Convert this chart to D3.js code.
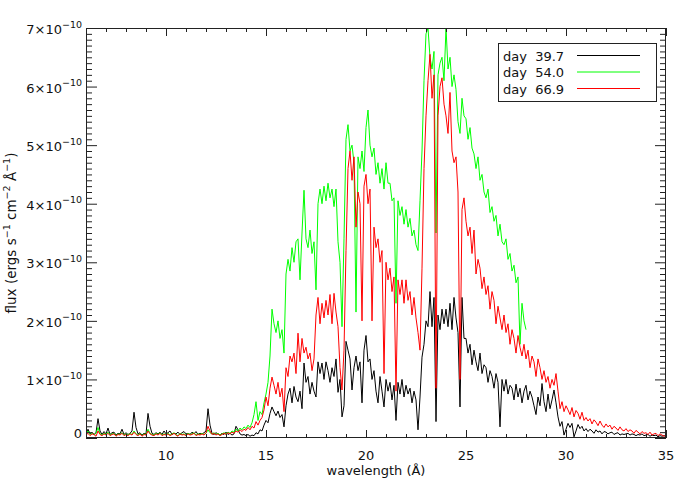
<!DOCTYPE html>
<html><head><meta charset="utf-8">
<script src="https://cdn.jsdelivr.net/npm/d3@7"></script>
<style>body{margin:0;background:#fff}svg{display:block;font-family:"DejaVu Sans",sans-serif}</style>
</head><body><svg id="c" width="692" height="494"></svg>
<script>
// wavelength grid (Å): first bin and bin width
const wavelengthStart = 6.0, wavelengthStep = 0.1;
// flux in units of 1e-10 ergs s^-1 cm^-2 Å^-1, one value per 0.1 Å bin
const flux_day39_7 = [
0.08,0.15,0.07,0.10,0.06,0.09,0.33,0.12,0.06,0.11,
0.07,0.17,0.06,0.09,0.10,0.05,0.08,0.07,0.15,0.06,
0.09,0.06,0.08,0.12,0.44,0.18,0.07,0.09,0.05,0.08,
0.07,0.42,0.20,0.08,0.06,0.09,0.07,0.10,0.06,0.12,
0.07,0.09,0.12,0.06,0.08,0.07,0.10,0.06,0.09,0.11,
0.07,0.08,0.06,0.10,0.07,0.11,0.06,0.08,0.07,0.09,
0.12,0.50,0.22,0.08,0.06,0.09,0.07,0.05,0.08,0.06,
0.10,0.06,0.08,0.05,0.07,0.20,0.14,0.07,0.05,0.06,
0.04,0.06,0.03,0.05,0.04,0.09,0.07,0.14,0.12,0.22,
0.30,0.26,0.42,0.53,0.45,0.38,0.46,0.35,0.40,0.19,
0.55,0.75,0.85,0.60,0.88,0.70,0.62,0.80,0.50,1.28,
0.95,1.05,0.75,0.95,0.80,0.70,1.30,1.10,1.28,1.00,
1.30,1.15,0.95,1.20,1.05,1.35,0.78,1.00,0.36,0.55,
1.65,1.50,1.35,0.82,1.20,1.40,1.15,1.30,0.60,1.50,
1.75,1.30,1.35,1.00,1.15,0.80,0.60,1.05,0.80,0.53,
1.00,0.80,0.95,0.65,0.90,0.30,0.95,0.75,1.00,0.70,
0.90,0.75,0.85,0.60,0.80,0.65,0.14,0.70,1.38,1.60,
2.00,1.90,2.50,1.90,2.40,0.28,2.10,1.85,2.20,1.95,
2.20,1.90,2.30,1.85,2.40,2.05,1.80,0.53,2.40,1.70,
1.70,1.45,1.60,1.25,1.50,1.30,1.15,1.45,1.10,1.25,
1.20,0.95,1.15,1.05,0.85,1.10,0.95,0.19,1.00,0.80,
1.00,0.75,0.90,0.85,0.65,0.92,0.70,0.85,0.60,0.80,
0.90,0.65,0.80,0.70,0.55,0.40,0.70,0.55,0.93,0.62,
0.45,0.75,0.50,0.65,0.82,0.60,0.36,0.20,0.28,0.05,
0.15,0.25,0.18,0.25,0.02,0.12,0.23,0.16,0.20,0.12,
0.16,0.11,0.15,0.12,0.08,0.14,0.10,0.12,0.07,0.11,
0.10,0.07,0.09,0.10,0.06,0.08,0.09,0.05,0.07,0.06,
0.07,0.08,0.05,0.07,0.06,0.04,0.06,0.05,0.07,0.04,
0.05,0.06,0.03,0.05,0.04,0.05,0.02,0.04,0.03,0.04,
0.03];
const flux_day54_0 = [
0.07,0.12,0.06,0.09,0.05,0.08,0.18,0.07,0.05,0.08,
0.06,0.10,0.05,0.07,0.08,0.04,0.07,0.06,0.09,0.05,
0.07,0.05,0.08,0.06,0.12,0.07,0.05,0.08,0.04,0.07,
0.06,0.15,0.08,0.06,0.05,0.08,0.06,0.09,0.05,0.07,
0.06,0.08,0.05,0.07,0.09,0.06,0.04,0.08,0.06,0.07,
0.05,0.08,0.06,0.07,0.09,0.05,0.07,0.06,0.08,0.06,
0.08,0.14,0.09,0.07,0.09,0.06,0.08,0.05,0.07,0.09,
0.07,0.10,0.08,0.12,0.10,0.15,0.12,0.17,0.14,0.19,
0.16,0.22,0.18,0.26,0.40,0.62,0.30,0.45,0.40,0.60,
0.75,0.95,1.40,2.20,1.95,1.80,2.00,1.70,1.85,1.45,
2.80,3.05,2.85,3.25,3.00,3.35,3.40,2.70,3.50,4.23,
3.40,3.25,3.55,3.15,3.35,2.53,4.00,4.25,4.00,4.30,
4.05,4.35,4.10,4.25,3.95,4.25,3.35,3.00,1.90,3.40,
5.10,5.35,4.90,5.00,4.70,2.15,4.80,4.60,4.90,4.55,
5.30,5.60,5.00,4.80,4.95,4.50,4.70,4.35,4.60,4.25,
4.70,4.35,4.35,4.05,4.10,2.30,4.05,3.80,3.95,3.65,
3.90,3.60,3.75,3.45,3.55,3.30,3.20,4.05,4.90,6.10,
6.90,7.00,6.50,6.30,6.60,3.50,6.20,6.40,6.50,6.10,
7.00,6.30,6.50,6.00,6.20,5.95,5.40,5.20,5.80,5.50,
5.45,5.10,5.30,4.95,4.85,4.60,4.80,4.40,4.50,4.20,
4.10,4.25,3.85,3.95,3.70,3.80,3.45,3.65,3.35,3.30,
3.40,3.05,3.15,2.85,2.95,2.65,2.75,1.60,2.30,2.00,
1.85];
const flux_day66_9 = [
0.05,0.08,0.04,0.07,0.06,0.03,0.12,0.06,0.04,0.07,
0.05,0.08,0.04,0.06,0.07,0.03,0.06,0.05,0.08,0.04,
0.06,0.04,0.07,0.05,0.10,0.06,0.04,0.07,0.03,0.06,
0.05,0.12,0.07,0.05,0.04,0.07,0.05,0.08,0.04,0.06,
0.05,0.07,0.04,0.06,0.08,0.05,0.03,0.07,0.05,0.06,
0.04,0.07,0.05,0.06,0.08,0.04,0.06,0.05,0.07,0.05,
0.09,0.20,0.12,0.06,0.08,0.05,0.07,0.04,0.06,0.08,
0.06,0.09,0.07,0.10,0.08,0.12,0.10,0.14,0.11,0.15,
0.13,0.18,0.14,0.20,0.17,0.28,0.22,0.30,0.35,0.48,
0.70,0.55,0.85,1.04,0.90,0.75,0.95,0.70,0.85,0.45,
1.20,1.05,1.40,1.30,1.45,1.10,1.79,1.30,1.70,1.45,
1.55,1.35,1.45,1.15,1.35,2.10,2.40,1.95,2.30,2.05,
2.35,2.10,2.45,1.95,2.47,2.15,1.90,1.20,0.82,1.50,
3.20,4.60,4.90,4.40,4.80,3.60,4.20,4.00,2.00,4.30,
4.50,4.00,4.25,2.00,3.60,3.25,3.40,3.00,3.20,1.10,
3.00,2.70,2.90,2.50,2.75,0.80,2.70,2.45,2.70,2.30,
2.70,2.35,2.50,2.10,2.40,2.05,1.80,1.50,2.90,4.60,
5.50,6.10,6.55,5.80,6.20,0.85,5.50,6.00,6.15,5.70,
5.50,5.20,5.90,4.90,4.70,4.80,4.20,1.00,3.90,4.10,
3.70,3.45,3.60,3.15,3.55,2.80,3.05,2.90,2.55,2.75,
2.45,2.60,2.20,2.50,2.35,1.95,2.25,2.05,1.85,2.10,
1.80,1.95,1.60,1.85,1.70,1.45,1.75,1.55,1.40,1.60,
1.35,1.50,1.20,1.40,1.30,1.05,1.35,1.20,1.00,1.15,
0.95,1.05,0.85,1.00,0.90,1.10,0.80,0.50,0.62,0.45,
0.55,0.48,0.40,0.52,0.36,0.47,0.42,0.32,0.44,0.30,
0.35,0.29,0.33,0.24,0.31,0.27,0.21,0.29,0.22,0.18,
0.24,0.19,0.22,0.15,0.20,0.17,0.13,0.19,0.14,0.12,
0.16,0.11,0.14,0.12,0.08,0.13,0.10,0.07,0.11,0.08,
0.09,0.06,0.10,0.05,0.07,0.08,0.04,0.07,0.05,0.03,
0.05];
const seriesNames = ["day  39.7", "day  54.0", "day  66.9"];
const seriesColors = ["#000000", "#00ff00", "#ff0000"];
const xMajorTicks = [10, 15, 20, 25, 30, 35];
const yMajorTicks = [0, 1, 2, 3, 4, 5, 6, 7]; // × 10^-10
const xDomain = [6, 35], yDomain = [0, 7];

const svg = d3.select("#c");
const M = {l: 86, r: 666, t: 28, b: 438};
const x = d3.scaleLinear().domain(xDomain).range([M.l, M.r]);
const y = d3.scaleLinear().domain(yDomain).range([M.b, M.t]);
const axisColor = "#222";

svg.append("defs").append("clipPath").attr("id", "clip")
  .append("rect").attr("x", M.l).attr("y", M.t).attr("width", M.r - M.l).attr("height", M.b - M.t);

const line = d3.line().x(d => x(d[0])).y(d => y(d[1]));
const toPts = arr => arr.map((v, i) => [wavelengthStart + i * wavelengthStep, v]);
const allSeries = [flux_day39_7, flux_day54_0, flux_day66_9];
const dg = svg.append("g").attr("clip-path", "url(#clip)");
allSeries.forEach((s, k) => {
  dg.append("path").attr("d", line(toPts(s))).attr("fill", "none")
    .attr("stroke", seriesColors[k]).attr("stroke-width", 1).attr("stroke-linejoin", "round");
});

// axes (inward ticks on all four sides)
const xMinor = d3.range(xDomain[0], xDomain[1] + 0.5, 1).filter(v => !xMajorTicks.includes(v));
const yMinor = d3.range(0, 70.5, 1).map(v => v / 10).filter(v => !yMajorTicks.includes(v));
function styleAxis(g) { g.select(".domain").remove(); g.selectAll("line").attr("stroke", axisColor); g.selectAll("text").remove(); }
svg.append("g").attr("transform", `translate(0,${M.b})`).call(d3.axisBottom(x).tickValues(xMajorTicks).tickSizeInner(-8).tickSizeOuter(0)).call(styleAxis);
svg.append("g").attr("transform", `translate(0,${M.b})`).call(d3.axisBottom(x).tickValues(xMinor).tickSizeInner(-4).tickSizeOuter(0)).call(styleAxis);
svg.append("g").attr("transform", `translate(0,${M.t})`).call(d3.axisTop(x).tickValues(xMajorTicks).tickSizeInner(-8).tickSizeOuter(0)).call(styleAxis);
svg.append("g").attr("transform", `translate(0,${M.t})`).call(d3.axisTop(x).tickValues(xMinor).tickSizeInner(-4).tickSizeOuter(0)).call(styleAxis);
svg.append("g").attr("transform", `translate(${M.l},0)`).call(d3.axisLeft(y).tickValues(yMajorTicks).tickSizeInner(-11).tickSizeOuter(0)).call(styleAxis);
svg.append("g").attr("transform", `translate(${M.l},0)`).call(d3.axisLeft(y).tickValues(yMinor).tickSizeInner(-6).tickSizeOuter(0)).call(styleAxis);
svg.append("g").attr("transform", `translate(${M.r},0)`).call(d3.axisRight(y).tickValues(yMajorTicks).tickSizeInner(-11).tickSizeOuter(0)).call(styleAxis);
svg.append("g").attr("transform", `translate(${M.r},0)`).call(d3.axisRight(y).tickValues(yMinor).tickSizeInner(-6).tickSizeOuter(0)).call(styleAxis);
svg.append("rect").attr("x", M.l + 0.5).attr("y", M.t + 0.5).attr("width", M.r - M.l - 1).attr("height", M.b - M.t - 1)
  .attr("fill", "none").attr("stroke", axisColor).attr("stroke-width", 1);

// x tick labels
svg.append("g").selectAll("text").data(xMajorTicks).join("text")
  .attr("x", d => x(d)).attr("y", M.b + 22).attr("text-anchor", "middle")
  .attr("font-size", 13).attr("fill", "#111").text(d => d);
// y tick labels
const yl = svg.append("g");
yMajorTicks.forEach(v => {
  const t = yl.append("text").attr("x", 82).attr("text-anchor", "end").attr("font-size", 13).attr("fill", "#111");
  if (v === 0) { t.attr("y", y(v) - 0.5).text("0"); return; }
  t.attr("y", y(v) + 6);
  t.append("tspan").text(v + "×10");
  t.append("tspan").attr("font-size", 9.5).attr("dy", -6.5).text("−10");
});
// axis titles
svg.append("text").attr("x", (M.l + M.r) / 2).attr("y", 475).attr("text-anchor", "middle")
  .attr("font-size", 13).attr("fill", "#111").text("wavelength (Å)");
const yt = svg.append("text").attr("transform", `translate(16,${(M.t + M.b) / 2}) rotate(-90)`)
  .attr("text-anchor", "middle").attr("font-size", 13.5).attr("fill", "#111");
const parts = [["flux (ergs s", 0], ["−1", 1], [" cm", 0], ["−2", 1], [" Å", 0], ["−1", 1], [")", 0]];
parts.forEach(([s, sup], i) => {
  const ts = yt.append("tspan").text(s);
  if (sup) ts.attr("font-size", 9.5).attr("dy", -6);
  else if (i > 0) ts.attr("dy", 6);
});

// legend
const lg = svg.append("g");
lg.append("rect").attr("x", 498.5).attr("y", 43.5).attr("width", 158).attr("height", 58)
  .attr("fill", "#fff").attr("stroke", axisColor);
seriesNames.forEach((n, i) => {
  const cy = 55.5 + i * 16.5;
  lg.append("text").attr("x", 503).attr("y", cy + 5).attr("font-size", 13).attr("fill", "#111")
    .style("white-space", "pre").text(n);
  lg.append("line").attr("x1", 577).attr("x2", 640).attr("y1", cy).attr("y2", cy)
    .attr("stroke", seriesColors[i]).attr("stroke-width", 1);
});
</script></body></html>
